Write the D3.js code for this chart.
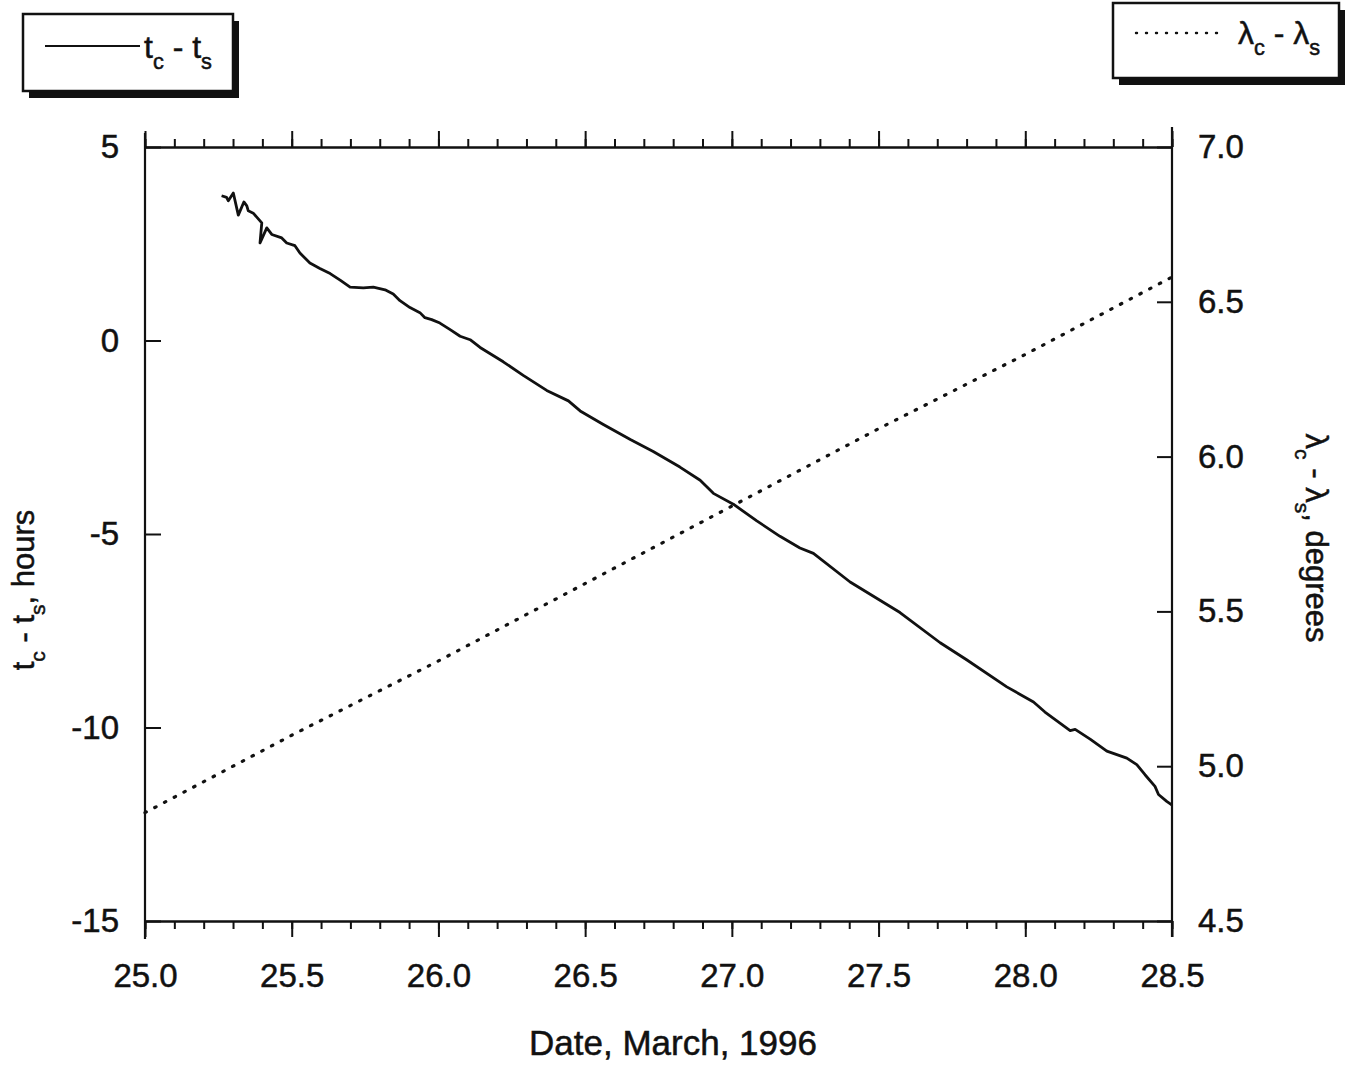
<!DOCTYPE html>
<html>
<head>
<meta charset="utf-8">
<script src="https://cdn.jsdelivr.net/npm/d3@7"></script>
<style>
  html, body { margin: 0; padding: 0; background: #fff; }
  svg { display: block; font-family: "Liberation Sans", Arial, Helvetica, sans-serif; }
  svg text { stroke: #111; stroke-width: 0.5px; }
</style>
</head>
<body>
<div id="chart"></div>
<script>
// t_c - t_s (hours)
const tcDates = [25.261, 25.278, 25.284, 25.301, 25.318, 25.337, 25.347, 25.352, 25.369, 25.398, 25.392, 25.415,
  25.432, 25.466, 25.483, 25.511, 25.528, 25.562, 25.596, 25.631, 25.665, 25.699, 25.744, 25.778, 25.818, 25.846,
  25.869, 25.903, 25.937, 25.954, 25.977, 26.005, 26.040, 26.074, 26.108, 26.142, 26.221, 26.289, 26.369, 26.443,
  26.483, 26.562, 26.654, 26.732, 26.823, 26.892, 26.937, 27.005, 27.085, 27.164, 27.232, 27.278, 27.403, 27.573,
  27.710, 27.800, 27.937, 28.028, 28.067, 28.153, 28.170, 28.221, 28.278, 28.346, 28.380, 28.408, 28.442, 28.454,
  28.482, 28.499];
const tcValues = [3.74, 3.70, 3.61, 3.81, 3.24, 3.58, 3.48, 3.35, 3.29, 3.04, 2.52, 2.91,
  2.74, 2.65, 2.52, 2.45, 2.26, 2.00, 1.86, 1.73, 1.56, 1.38, 1.36, 1.38, 1.31, 1.20,
  1.03, 0.85, 0.72, 0.59, 0.54, 0.45, 0.28, 0.11, 0.02, -0.18, -0.55, -0.90, -1.29, -1.56,
  -1.82, -2.17, -2.56, -2.87, -3.27, -3.61, -3.95, -4.23, -4.66, -5.06, -5.36, -5.50, -6.24, -7.03,
  -7.81, -8.25, -8.95, -9.34, -9.60, -10.08, -10.05, -10.30, -10.61, -10.79, -10.96, -11.22, -11.52, -11.73,
  -11.91, -12.00];

// lambda_c - lambda_s (degrees)
const lamDates = [25.0, 25.5, 26.0, 26.5, 27.0, 27.5, 28.0, 28.5];
const lamValues = [4.85, 5.10, 5.34, 5.59, 5.84, 6.09, 6.33, 6.58];

const xTickLabels = [25.0, 25.5, 26.0, 26.5, 27.0, 27.5, 28.0, 28.5];
const leftTickLabels = [5, 0, -5, -10, -15];
const rightTickLabels = [7.0, 6.5, 6.0, 5.5, 5.0, 4.5];

const width = 1346;
const height = 1066;
const plotLeft = 145, plotRight = 1172, plotTop = 147, plotBottom = 921;
const ink = '#111';

const svg = d3.select('#chart')
              .append('svg')
              .attr('width', width)
              .attr('height', height);

const xScale = d3.scaleLinear().domain([25, 28.5]).range([plotLeft, plotRight]);
const yLeft = d3.scaleLinear().domain([-15, 5]).range([plotBottom, plotTop]);
const yRight = d3.scaleLinear().domain([4.5, 7.0]).range([plotBottom, plotTop]);

const minorTicks = d3.range(250, 286).map(d => d / 10);

function styleAxis(g) {
  g.select('.domain').attr('stroke', ink).attr('stroke-width', 2.2);
  g.selectAll('.tick line').attr('stroke', ink).attr('stroke-width', 2);
  g.selectAll('.tick text').attr('fill', ink).attr('font-size', 33);
}

// bottom axis: minor + major ticks, outward
svg.append('g')
   .attr('transform', 'translate(0,' + plotBottom + ')')
   .call(d3.axisBottom(xScale).tickValues(minorTicks).tickSize(8).tickSizeOuter(0).tickFormat(''))
   .call(styleAxis);
svg.append('g')
   .attr('transform', 'translate(0,' + plotBottom + ')')
   .call(d3.axisBottom(xScale).tickValues(xTickLabels).tickSize(16).tickSizeOuter(0)
           .tickPadding(27).tickFormat(d => d.toFixed(1)))
   .call(styleAxis);

// top axis: same ticks, pointing up, no labels
svg.append('g')
   .attr('transform', 'translate(0,' + plotTop + ')')
   .call(d3.axisTop(xScale).tickValues(minorTicks).tickSize(8).tickSizeOuter(0).tickFormat(''))
   .call(styleAxis);
svg.append('g')
   .attr('transform', 'translate(0,' + plotTop + ')')
   .call(d3.axisTop(xScale).tickValues(xTickLabels).tickSize(16).tickSizeOuter(0).tickFormat(''))
   .call(styleAxis);

// left axis, ticks inward (plain hyphen for minus, as in the original)
svg.append('g')
   .attr('transform', 'translate(' + plotLeft + ',0)')
   .call(d3.axisLeft(yLeft).tickValues(leftTickLabels).tickSize(-16).tickSizeOuter(0)
           .tickPadding(26).tickFormat(d => String(d)))
   .call(styleAxis)
   .call(g => g.select('.domain').remove());

// right axis, ticks inward
svg.append('g')
   .attr('transform', 'translate(' + plotRight + ',0)')
   .call(d3.axisRight(yRight).tickValues(rightTickLabels).tickSize(-15).tickSizeOuter(0)
           .tickPadding(26).tickFormat(d => d.toFixed(1)))
   .call(styleAxis)
   .call(g => g.select('.domain').remove());

// vertical frame lines run a little past the horizontal ones
svg.append('line')
   .attr('x1', plotLeft).attr('x2', plotLeft)
   .attr('y1', plotTop - 14).attr('y2', plotBottom + 18)
   .attr('stroke', ink).attr('stroke-width', 2.2);
svg.append('line')
   .attr('x1', plotRight).attr('x2', plotRight)
   .attr('y1', plotTop - 20).attr('y2', plotBottom + 16)
   .attr('stroke', ink).attr('stroke-width', 2.2);

// data lines
const tcLine = d3.line()
                 .x((d, i) => xScale(tcDates[i]))
                 .y(d => yLeft(d));
svg.append('path')
   .datum(tcValues)
   .attr('d', tcLine)
   .attr('fill', 'none')
   .attr('stroke', ink)
   .attr('stroke-width', 2.8)
   .attr('stroke-linejoin', 'round');

const lamLine = d3.line()
                  .x((d, i) => xScale(lamDates[i]))
                  .y(d => yRight(d));
svg.append('path')
   .datum(lamValues)
   .attr('d', lamLine)
   .attr('fill', 'none')
   .attr('stroke', ink)
   .attr('stroke-width', 3.2)
   .attr('stroke-linecap', 'round')
   .attr('stroke-dasharray', '1.5 9.5');

// text with subscripts
function subText(sel, parts, size) {
  let prevSub = false;
  parts.forEach(([t, sub]) => {
    const ts = sel.append('tspan').text(t);
    if (sub) ts.attr('font-size', size * 0.68);
    if (sub && !prevSub) ts.attr('dy', size * 0.34);
    if (!sub && prevSub) ts.attr('dy', -size * 0.34);
    prevSub = sub;
  });
}

svg.append('text')
   .attr('x', 673).attr('y', 1055)
   .attr('text-anchor', 'middle')
   .attr('font-size', 35)
   .attr('fill', ink)
   .text('Date, March, 1996');

const leftTitle = svg.append('text')
   .attr('transform', 'translate(34,590) rotate(-90)')
   .attr('text-anchor', 'middle')
   .attr('font-size', 31)
   .attr('fill', ink);
subText(leftTitle, [['t', false], ['c', true], [' - t', false], ['s', true], [', hours', false]], 31);

const rightTitle = svg.append('text')
   .attr('transform', 'translate(1306,538) rotate(90)')
   .attr('text-anchor', 'middle')
   .attr('font-size', 31)
   .attr('fill', ink);
subText(rightTitle, [['λ', false], ['c', true], [' - λ', false], ['s', true], [', degrees', false]], 31);

// legends
function legendBox(x, y, w, h) {
  svg.append('rect')
     .attr('x', x + 6).attr('y', y + 7)
     .attr('width', w).attr('height', h)
     .attr('fill', ink);
  svg.append('rect')
     .attr('x', x).attr('y', y)
     .attr('width', w).attr('height', h)
     .attr('fill', '#fff')
     .attr('stroke', ink)
     .attr('stroke-width', 2.5);
}

legendBox(23, 14, 210, 77);
svg.append('line')
   .attr('x1', 45).attr('x2', 140).attr('y1', 46).attr('y2', 46)
   .attr('stroke', ink).attr('stroke-width', 2.2);
const leg1 = svg.append('text')
   .attr('x', 144).attr('y', 58)
   .attr('font-size', 32)
   .attr('fill', ink);
subText(leg1, [['t', false], ['c', true], [' - t', false], ['s', true]], 32);

legendBox(1113, 3, 226, 75);
svg.append('line')
   .attr('x1', 1136).attr('x2', 1226).attr('y1', 33).attr('y2', 33)
   .attr('stroke', ink).attr('stroke-width', 2.4)
   .attr('stroke-linecap', 'round')
   .attr('stroke-dasharray', '1 9');
const leg2 = svg.append('text')
   .attr('x', 1238).attr('y', 44)
   .attr('font-size', 32)
   .attr('fill', ink);
subText(leg2, [['λ', false], ['c', true], [' - λ', false], ['s', true]], 32);
</script>
</body>
</html>
